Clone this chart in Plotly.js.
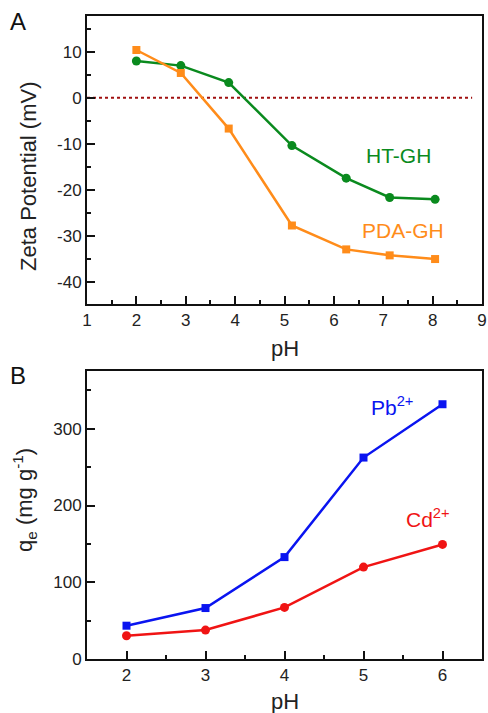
<!DOCTYPE html>
<html><head><meta charset="utf-8">
<script src="https://cdn.plot.ly/plotly-3.0.1.min.js"></script>
<style>html,body{margin:0;padding:0;background:#fff}#c{width:488px;height:713px}</style>
</head><body><div id="c"></div>
<script>
// Panel A: zeta potential
const phA_HT = [2.0, 2.9, 3.87, 5.15, 6.25, 7.13, 8.05];
const zetaHT = [8.0, 7.0, 3.3, -10.4, -17.5, -21.7, -22.1];
const phA_PDA = [2.0, 2.9, 3.87, 5.15, 6.25, 7.13, 8.05];
const zetaPDA = [10.4, 5.4, -6.7, -27.8, -33.0, -34.3, -35.1];
const zetaTicks = [-40, -30, -20, -10, 0, 10];
const zetaTickText = ["-40", "-30", "-20", "-10", "0", "10"];
// Panel B: adsorption capacity
const phB = [2, 3, 4, 5, 6];
const qePb = [43.4, 66.4, 132.8, 262.5, 332];
const qeCd = [30.3, 37.7, 67.2, 119.8, 149.3];
const qeTicks = [0, 100, 200, 300];

const FONT = "Liberation Sans, Arial, sans-serif";
const green = "#0a8a1e", orange = "#ff8c1a", blue = "#0a14f0", red = "#f01414";

const traces = [
  {x: phA_HT, y: zetaHT, xaxis: "x", yaxis: "y", mode: "lines+markers",
   line: {color: green, width: 2.5}, marker: {symbol: "circle", size: 9, color: green}},
  {x: phA_PDA, y: zetaPDA, xaxis: "x", yaxis: "y", mode: "lines+markers",
   line: {color: orange, width: 2.5}, marker: {symbol: "square", size: 8, color: orange}},
  {x: phB, y: qePb, xaxis: "x2", yaxis: "y2", mode: "lines+markers",
   line: {color: blue, width: 2.5}, marker: {symbol: "square", size: 8, color: blue}},
  {x: phB, y: qeCd, xaxis: "x2", yaxis: "y2", mode: "lines+markers",
   line: {color: red, width: 2.5}, marker: {symbol: "circle", size: 9, color: red}}
];

const TF = {family: FONT, size: 22, color: "#222"};
const axBase = {showline: true, linecolor: "#111", linewidth: 2, mirror: true,
  ticks: "inside", ticklen: 8, tickwidth: 2, tickcolor: "#111",
  showgrid: false, zeroline: false,
  tickfont: {family: FONT, size: 17, color: "#222"}};

function ax(extra) { return Object.assign(JSON.parse(JSON.stringify(axBase)), extra); }
function minor(d) { return {dtick: d, ticklen: 4, tickwidth: 2, tickcolor: "#111", ticks: "inside"}; }

const layout = {
  width: 488, height: 713,
  margin: {l: 87, r: 6, t: 16, b: 54},
  paper_bgcolor: "#fff", plot_bgcolor: "#fff",
  showlegend: false,
  xaxis: ax({domain: [0, 1], anchor: "y", range: [1, 9], dtick: 1, minor: minor(0.5)}),
  yaxis: ax({domain: [0.552, 1], anchor: "x", range: [-44.9, 17.8],
    tickmode: "array", tickvals: zetaTicks, ticktext: zetaTickText, minor: minor(5)}),
  xaxis2: ax({domain: [0, 1], anchor: "y2", range: [1.5, 6.5], dtick: 1, minor: minor(0.5)}),
  yaxis2: ax({domain: [0, 0.448], anchor: "x2", range: [0, 375.4],
    tickmode: "array", tickvals: qeTicks, minor: minor(50)}),
  shapes: [
    {type: "line", xref: "x", yref: "y", x0: 1, x1: 8.8, y0: 0, y1: 0,
     line: {color: "#a01010", width: 2, dash: "dot"}, layer: "below"}
  ],
  annotations: [
    {text: "pH", xref: "paper", yref: "paper", x: 0.5, y: (659 - 348) / 643, xanchor: "center", yanchor: "middle",
     showarrow: false, font: TF},
    {text: "pH", xref: "paper", yref: "paper", x: 0.5, y: (659 - 701) / 643, xanchor: "center", yanchor: "middle",
     showarrow: false, font: TF},
    {text: "Zeta Potential (mV)", xref: "paper", yref: "paper", x: (28 - 87) / 395, y: (659 - 176) / 643,
     xanchor: "center", yanchor: "middle", textangle: -90, showarrow: false, font: TF},
    {text: "q<sub>e</sub> (mg g<sup>-1</sup>)", xref: "paper", yref: "paper", x: (24 - 87) / 395, y: (659 - 500) / 643,
     xanchor: "center", yanchor: "middle", textangle: -90, showarrow: false, font: TF},
    {text: "A", xref: "paper", yref: "paper", x: -0.2, y: 1.015, xanchor: "left", yanchor: "top", showarrow: false,
     font: {family: FONT, size: 24, color: "#111"}},
    {text: "B", xref: "paper", yref: "paper", x: -0.2, y: 0.465, xanchor: "left", yanchor: "top", showarrow: false,
     font: {family: FONT, size: 24, color: "#111"}},
    {text: "HT-GH", xref: "x", yref: "y", x: 7.31, y: -12.5, showarrow: false,
     font: {family: FONT, size: 21, color: green}},
    {text: "PDA-GH", xref: "x", yref: "y", x: 7.41, y: -28.8, showarrow: false,
     font: {family: FONT, size: 21, color: orange}},
    {text: "Pb<sup>2+</sup>", xref: "x2", yref: "y2", x: 5.07, y: 330, xanchor: "left", showarrow: false,
     font: {family: FONT, size: 21, color: blue}},
    {text: "Cd<sup>2+</sup>", xref: "x2", yref: "y2", x: 5.51, y: 184, xanchor: "left", showarrow: false,
     font: {family: FONT, size: 21, color: red}}
  ]
};

Plotly.newPlot("c", traces, layout, {staticPlot: true, displayModeBar: false});
</script></body></html>
